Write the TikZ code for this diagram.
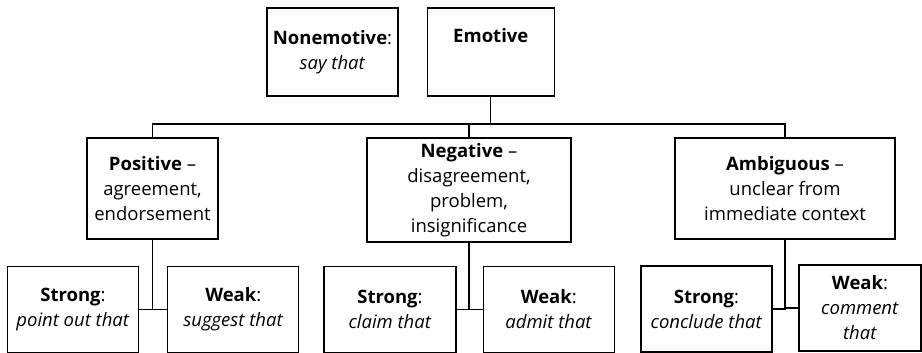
\documentclass[tikz,border=0pt]{standalone}
\usepackage{fontspec}
\setmainfont{Open Sans}
\usetikzlibrary{positioning}
\tikzset{
  box/.style={draw, line width=1.3pt, align=center, inner sep=0pt, font=\fontsize{18.5}{25}\selectfont},
  headbox/.style={minimum width=131pt, minimum height=88pt},
  catbox/.style={minimum height=101pt},
  leafbox/.style={minimum width=131pt, minimum height=86pt},
  link/.style={line width=1.3pt}
}

\begin{document}
\begin{tikzpicture}[x=1pt, y=-1pt, node distance=27pt and 28pt]
  \useasboundingbox (0,0) rectangle (922,353);
  \node[box,headbox] (nonemo) at (332.5,52) {\textbf{Nonemotive}:\\\textit{say that}};
  \node[box,headbox,minimum width=127pt,right=of nonemo] (emo) {\textbf{Emotive}\\\strut};

  \node[box,catbox,minimum width=131pt] (pos) at (152.5,188.5) {\textbf{Positive} --\\agreement,\\endorsement};
  \node[box,catbox,minimum width=204pt,minimum height=104pt] (neg) at (469,190) {\textbf{Negative} --\\disagreement,\\problem,\\insignificance};
  \node[box,catbox,minimum width=220pt] (amb) at (785,188.5) {\textbf{Ambiguous} --\\unclear from\\immediate context};

  \node[box,leafbox] (posstrong) at (73,309.5) {\textbf{Strong}:\\\textit{point out that}};
  \node[box,leafbox,right=of posstrong] (posweak) {\textbf{Weak}:\\\textit{suggest that}};
  \node[box,leafbox,minimum width=132pt] (negstrong) at (390,309.5) {\textbf{Strong}:\\\textit{claim that}};
  \node[box,leafbox,right=26pt of negstrong] (negweak) {\textbf{Weak}:\\\textit{admit that}};
  \node[box,leafbox] (ambstrong) at (706.5,309) {\textbf{Strong}:\\\textit{conclude that}};
  \node[box,leafbox,minimum width=122pt] (ambweak) at (860,308) {\textbf{Weak}:\\\textit{comment}\\\textit{that}};

  \coordinate (bus) at (0,124);
  \draw[link] (pos.north) |- (bus -| amb.north) -- (amb.north);
  \draw[link] (neg.north) -- (neg.north |- bus);
  \draw[link] (emo.south) -- (emo.south |- bus);

  \draw[link] (pos.south) |- (posstrong.east);
  \draw[link] (pos.south) |- (posweak.west);
  \draw[link] (neg.south) |- (negstrong.east);
  \draw[link] (neg.south) |- (negweak.west);
  \draw[link] (amb.south) |- (ambstrong.east);
  \draw[link] (amb.south) |- (ambweak.west);
\end{tikzpicture}
\end{document}
